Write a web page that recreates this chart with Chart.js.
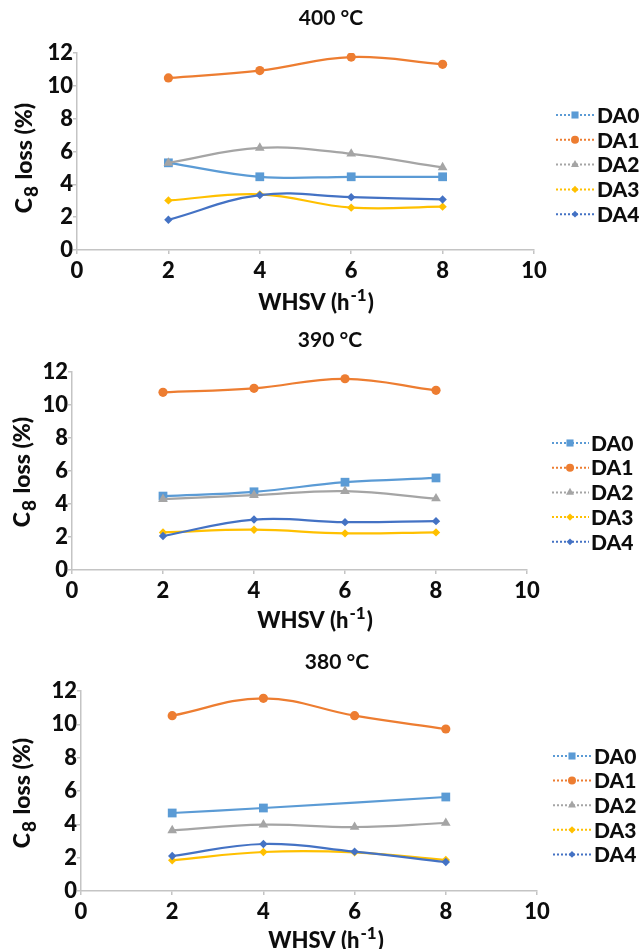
<!DOCTYPE html>
<html>
<head>
<meta charset="utf-8">
<script src="https://cdn.jsdelivr.net/npm/chart.js@4.4.1/dist/chart.umd.min.js"></script>
<style>
html,body{margin:0;padding:0;background:#fff;}
body{width:640px;height:949px;position:relative;overflow:hidden;}
.wrap{position:absolute;left:0;width:640px;}
canvas{display:block;}
</style>
</head>
<body>
<div class="wrap" style="top:0;height:316px"><canvas id="c400" width="640" height="316"></canvas></div>
<div class="wrap" style="top:316px;height:316px"><canvas id="c390" width="640" height="316"></canvas></div>
<div class="wrap" style="top:632px;height:317px"><canvas id="c380" width="640" height="317"></canvas></div>
<script>
// ---------- data ----------
const whsv = [2, 4, 6, 8];
const seriesNames = ['DA0', 'DA1', 'DA2', 'DA3', 'DA4'];
const xTickValues = [0, 2, 4, 6, 8, 10];
const yTickValues = [0, 2, 4, 6, 8, 10, 12];
const panelTitles = ['400 °C', '390 °C', '380 °C'];
const xAxisLabel = ['WHSV (h', '-1', ')'];
const yAxisLabel = ['C', '8', ' loss (%)'];

const t400_DA0 = [5.31, 4.46, 4.46, 4.46];
const t400_DA1 = [10.48, 10.93, 11.75, 11.31];
const t400_DA2 = [5.31, 6.22, 5.86, 5.03];
const t400_DA3 = [3.02, 3.39, 2.58, 2.64];
const t400_DA4 = [1.84, 3.34, 3.22, 3.08];

const t390_DA0 = [4.48, 4.74, 5.32, 5.58];
const t390_DA1 = [10.77, 11.01, 11.59, 10.89];
const t390_DA2 = [4.29, 4.54, 4.78, 4.33];
const t390_DA3 = [2.28, 2.44, 2.22, 2.28];
const t390_DA4 = [2.06, 3.06, 2.90, 2.96];

const t380_DA0 = [4.68, 4.98, null, 5.64];
const t380_DA1 = [10.52, 11.56, 10.52, 9.72];
const t380_DA2 = [3.64, 3.98, 3.84, 4.08];
const t380_DA3 = [1.84, 2.34, 2.32, 1.86];
const t380_DA4 = [2.10, 2.82, 2.36, 1.74];

// ---------- styles ----------
const seriesColors = ['#5b9bd5', '#ed7d31', '#a5a5a5', '#ffc000', '#4472c4'];
const seriesMarkers = ['rect', 'circle', 'triangle', 'rectRot', 'rectRot'];
const markerRadius = [6.2, 4.6, 5.6, 4.2, 4.2];
const legendRadius = [5.0, 4.0, 4.6, 3.6, 3.4];
const FONT = 'Lato, "Open Sans", sans-serif';
const W = '900';
const TEXT = '#0d0d0d';
const AXIS = '#c4c4c4';

function drawMarker(ctx, style, x, y, r) {
  ctx.beginPath();
  if (style === 'circle') {
    ctx.arc(x, y, r, 0, Math.PI * 2);
  } else if (style === 'rect') {
    const s = r * Math.SQRT1_2;
    ctx.rect(x - s, y - s, 2 * s, 2 * s);
  } else if (style === 'triangle') {
    ctx.moveTo(x, y - r);
    ctx.lineTo(x + r * 0.866, y + r * 0.5);
    ctx.lineTo(x - r * 0.866, y + r * 0.5);
  } else {
    ctx.moveTo(x, y - r);
    ctx.lineTo(x + r, y);
    ctx.lineTo(x, y + r);
    ctx.lineTo(x - r, y);
  }
  ctx.closePath();
  ctx.fill();
}

function drawRich(ctx, parts, cx, cy, mainSize, smallSize, shift) {
  const mainF = W + ' ' + mainSize + 'px ' + FONT;
  const smallF = W + ' ' + smallSize + 'px ' + FONT;
  ctx.font = mainF; const w0 = ctx.measureText(parts[0]).width;
  const w2 = ctx.measureText(parts[2]).width;
  ctx.font = smallF; const w1 = ctx.measureText(parts[1]).width;
  const total = w0 + w1 + w2 + 2;
  let x = cx - total / 2;
  const base = cy + mainSize * 0.36;
  ctx.textAlign = 'left';
  ctx.textBaseline = 'alphabetic';
  ctx.font = mainF; ctx.fillText(parts[0], x, base); x += w0 + 1;
  ctx.font = smallF; ctx.fillText(parts[1], x, base + shift); x += w1 + 1;
  ctx.font = mainF; ctx.fillText(parts[2], x, base);
}

const panelText = {
  id: 'panelText',
  afterDraw(chart, args, g) {
    const ctx = chart.ctx;
    ctx.save();
    ctx.fillStyle = TEXT;
    // panel title
    ctx.font = 'bold 21px ' + FONT;
    ctx.textAlign = 'center';
    ctx.textBaseline = 'middle';
    ctx.fillText(g.title, g.titleX, g.titleY);
    // x axis title with superscript
    drawRich(ctx, xAxisLabel, g.xtX, g.xtY, 22, 17, -9);
    // y axis title with subscript (rotated)
    ctx.save();
    ctx.translate(g.ytX, g.ytY);
    ctx.rotate(-Math.PI / 2);
    drawRich(ctx, yAxisLabel, 0, 0, 23, 19, 6);
    ctx.restore();
    // legend
    chart.data.datasets.forEach((ds, i) => {
      const y = g.legY + i * g.legStep;
      ctx.save();
      ctx.strokeStyle = ds.borderColor;
      ctx.lineWidth = 2;
      ctx.setLineDash([2, 2]);
      ctx.beginPath();
      ctx.moveTo(g.legX1, y);
      ctx.lineTo(g.legX2, y);
      ctx.stroke();
      ctx.setLineDash([]);
      ctx.fillStyle = ds.backgroundColor;
      drawMarker(ctx, ds.pointStyle, g.legM, y, legendRadius[i]);
      ctx.restore();
      ctx.fillStyle = TEXT;
      ctx.font = W + ' 21px ' + FONT;
      ctx.textAlign = 'left';
      ctx.textBaseline = 'middle';
      ctx.fillText(ds.label, g.legT, y + 1);
    });
    ctx.restore();
  }
};

function makeChart(id, title, series, geo) {
  const datasets = seriesNames.map((name, i) => ({
    label: name,
    data: whsv.map((x, j) => ({ x: x, y: series[i][j] })),
    borderColor: seriesColors[i],
    backgroundColor: seriesColors[i],
    pointStyle: seriesMarkers[i],
    pointRadius: markerRadius[i],
    pointBorderWidth: 0,
    borderWidth: 2.25,
    tension: 0.4,
    spanGaps: true,
    order: seriesNames.length - i
  }));
  const tickFont = { family: FONT, weight: W, size: 22 };
  return new Chart(document.getElementById(id), {
    type: 'line',
    data: { datasets: datasets },
    plugins: [panelText],
    options: {
      responsive: false,
      animation: false,
      devicePixelRatio: 1,
      layout: { padding: { top: geo.top, right: 640 - geo.right, left: 0, bottom: 0 } },
      plugins: {
        legend: { display: false },
        tooltip: { enabled: false },
        title: { display: false },
        panelText: Object.assign({ title: title }, geo)
      },
      scales: {
        x: {
          type: 'linear', min: 0, max: 10,
          afterBuildTicks: s => { s.ticks = xTickValues.map(v => ({ value: v })); },
          afterFit: s => { s.height = geo.H - geo.bottom; },
          ticks: { font: tickFont, color: TEXT, padding: 4, maxRotation: 0, autoSkip: false },
          grid: { drawOnChartArea: false, drawTicks: true, tickLength: 4, color: AXIS, lineWidth: 1.5 },
          border: { display: true, color: AXIS, width: 1.5 }
        },
        y: {
          type: 'linear', min: 0, max: 12,
          afterBuildTicks: s => { s.ticks = yTickValues.map(v => ({ value: v })); },
          afterFit: s => { s.width = geo.left; },
          ticks: { font: tickFont, color: TEXT, padding: 0 },
          grid: { drawOnChartArea: false, drawTicks: true, tickLength: 4, color: AXIS, lineWidth: 1.5 },
          border: { display: true, color: AXIS, width: 1.5 }
        }
      }
    }
  });
}

makeChart('c400', panelTitles[0], [t400_DA0, t400_DA1, t400_DA2, t400_DA3, t400_DA4], {
  H: 316, left: 77, right: 534, top: 53, bottom: 250,
  titleX: 331, titleY: 18, xtX: 316, xtY: 302, ytX: 24, ytY: 158,
  legX1: 556, legX2: 595, legM: 575, legT: 597, legY: 115, legStep: 24.8
});
makeChart('c390', panelTitles[1], [t390_DA0, t390_DA1, t390_DA2, t390_DA3, t390_DA4], {
  H: 316, left: 72, right: 527, top: 56, bottom: 254,
  titleX: 330, titleY: 24, xtX: 315, xtY: 304, ytX: 22, ytY: 156,
  legX1: 552, legX2: 589, legM: 570, legT: 591, legY: 127, legStep: 24.7
});
makeChart('c380', panelTitles[2], [t380_DA0, t380_DA1, t380_DA2, t380_DA3, t380_DA4], {
  H: 317, left: 81, right: 537, top: 59, bottom: 259,
  titleX: 337, titleY: 30, xtX: 326, xtY: 308, ytX: 22, ytY: 161,
  legX1: 553, legX2: 591, legM: 572, legT: 594, legY: 124, legStep: 24.6
});
</script>
</body>
</html>
